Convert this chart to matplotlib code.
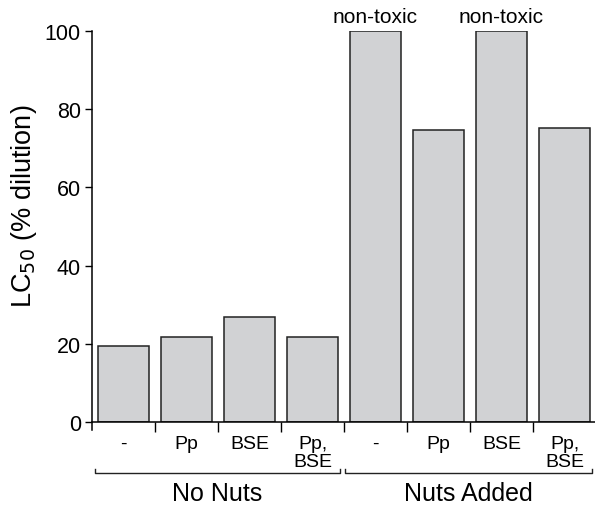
import numpy as np
import matplotlib.pyplot as plt

plt.rcParams['font.family'] = ['Liberation Sans', 'DejaVu Sans']

treatments = ["-", "Pp", "BSE", "Pp,\nBSE", "-", "Pp", "BSE", "Pp,\nBSE"]
lc50 = [19.4, 21.8, 27.0, 21.8, 100, 74.6, 100, 75.1]
nontoxic = [False, False, False, False, True, False, True, False]
groups = ["No Nuts", "Nuts Added"]

x = np.arange(len(lc50))

fig = plt.figure(figsize=(5.95, 5.06), dpi=100)
ax = fig.add_axes([0.1546, 0.1634, 0.847, 0.774])

ax.bar(x, lc50, width=0.81, color="#d1d2d4", edgecolor="#222222", linewidth=1.1)
for xi, v, nt in zip(x, lc50, nontoxic):
    if nt:
        ax.text(xi, v + 1.2, "non-toxic", ha="center", va="bottom", fontsize=15)

ax.set_xlim(-0.5, 7.5)
ax.set_ylim(0, 100)
ax.set_yticks([0, 20, 40, 60, 80, 100])
ax.tick_params(axis="y", labelsize=15.5, length=5, width=1, pad=3)
ax.set_ylabel("LC$_{50}$ (% dilution)", fontsize=19.5)
ax.yaxis.set_label_coords(-0.105, 0.555)

ax.set_xticks(x)
ax.set_xticklabels(treatments, fontsize=14, va="top", linespacing=1.1)
ax.tick_params(axis="x", which="major", length=0, pad=9)
ax.set_xticks(np.arange(0.5, 7.6, 1), minor=True)
ax.tick_params(axis="x", which="minor", length=7, width=1, direction="out")

for s in ["top", "right"]:
    ax.spines[s].set_visible(False)
ax.spines["left"].set_bounds(-2, 100)
ax.spines["left"].set_linewidth(1.1)
ax.spines["bottom"].set_linewidth(1.1)

# group brackets
brackets = [(-0.46, 3.44), (3.52, 7.44)]
for (a, b), g in zip(brackets, groups):
    ax.plot([a, a, b, b], [-11.8, -12.9, -12.9, -11.8], color="#222222", lw=1, clip_on=False)
    ax.text((a + b) / 2, -14.9, g, ha="center", va="top", fontsize=18)

fig.savefig("out.png", dpi=100)
